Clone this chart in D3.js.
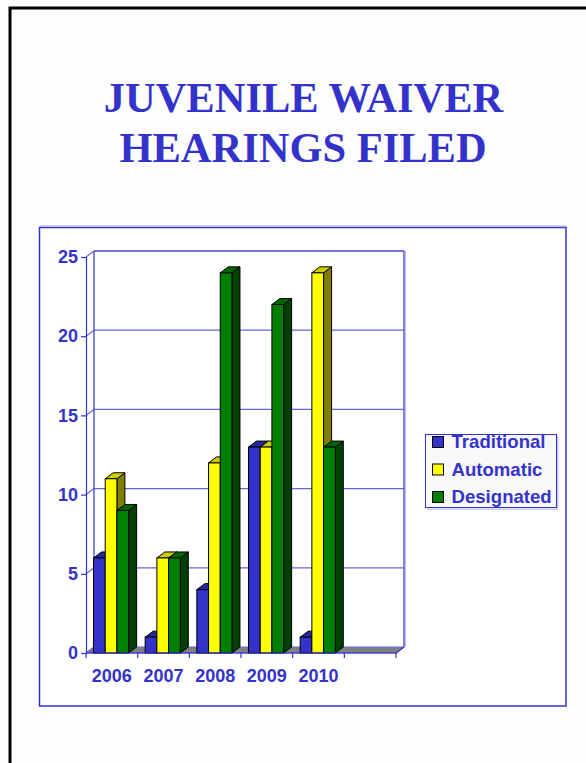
<!DOCTYPE html>
<html>
<head>
<meta charset="utf-8">
<script src="https://cdn.jsdelivr.net/npm/d3@7"></script>
<style>
  html, body { margin: 0; padding: 0; background: #fdfdfd; }
  svg { display: block; }
</style>
</head>
<body>
<svg id="chart" width="586" height="763"></svg>
<script>
// Hearings filed per year, by waiver type
const years = ["2006", "2007", "2008", "2009", "2010", ""];
const seriesNames = ["Traditional", "Automatic", "Designated"];
const traditional = [6, 1, 4, 13, 1];
const automatic = [11, 6, 12, 13, 24];
const designated = [9, 6, 24, 22, 13];
const yTicks = [0, 5, 10, 15, 20, 25];

const seriesValues = [traditional, automatic, designated];
const faceColors = {
  front: ["#3333CC", "#FFFF00", "#008000"],
  top:   ["#2626A0", "#CCCC00", "#006600"],
  side:  ["#1A1A66", "#808000", "#004000"]
};
const ink = "#3333CC";
const gridColor = "#6666DD";

const svg = d3.select("#chart");

// page frame
svg.append("rect")
  .attr("x", 10).attr("y", 8).attr("width", 640).attr("height", 820)
  .attr("fill", "#fdfdfd").attr("stroke", "#000").attr("stroke-width", 3);

// title
const title = svg.append("text")
  .attr("text-anchor", "middle")
  .attr("font-family", "'Liberation Serif', 'Times New Roman', serif")
  .attr("font-weight", "bold")
  .attr("font-size", 42.5)
  .attr("fill", ink);
title.append("tspan").attr("x", 303.5).attr("y", 112).text("JUVENILE WAIVER");
title.append("tspan").attr("x", 303).attr("y", 162).text("HEARINGS FILED");

// chart box
svg.append("rect")
  .attr("x", 39.5).attr("y", 227.5).attr("width", 526.5).attr("height", 478.5)
  .attr("fill", "#ffffff").attr("stroke", ink).attr("stroke-width", 1.5);
svg.append("line")
  .attr("x1", 40).attr("x2", 566).attr("y1", 226).attr("y2", 226)
  .attr("stroke", "#aaaaee").attr("stroke-width", 1);

// scales
const depthX = 8, depthY = -6;
const x = d3.scaleBand().domain(years).range([86, 396]).paddingInner(0).paddingOuter(0);
const bw = x.bandwidth();
const xInner = d3.scaleBand().domain(seriesNames).range([bw * 0.145, bw * 0.825]).padding(0);
const y = d3.scaleLinear().domain([0, 25]).range([653, 257]);

const g = svg.append("g");
const frontLeft = x.range()[0], frontRight = x.range()[1];
const y0 = y(0);

// floor
g.append("path")
  .attr("d", `M${frontLeft},${y0} L${frontLeft + depthX},${y0 + depthY} L${frontRight + depthX},${y0 + depthY} L${frontRight},${y0} Z`)
  .attr("fill", "#808080").attr("stroke", gridColor).attr("stroke-width", 1);

// back wall and left wall gridlines
yTicks.forEach(t => {
  const yf = y(t), yb = y(t) + depthY;
  if (t > 0) {
    g.append("line")
      .attr("x1", frontLeft + depthX).attr("x2", frontRight + depthX)
      .attr("y1", yb).attr("y2", yb)
      .attr("stroke", gridColor).attr("stroke-width", 1.2);
  }
  g.append("line")
    .attr("x1", frontLeft).attr("x2", frontLeft + depthX)
    .attr("y1", yf).attr("y2", yb)
    .attr("stroke", gridColor).attr("stroke-width", 1.2);
});
// wall edges
g.append("line")
  .attr("x1", frontLeft + depthX).attr("x2", frontLeft + depthX)
  .attr("y1", y(25) + depthY).attr("y2", y0 + depthY)
  .attr("stroke", ink).attr("stroke-width", 1.2);
g.append("line")
  .attr("x1", frontRight + depthX).attr("x2", frontRight + depthX)
  .attr("y1", y(25) + depthY).attr("y2", y0 + depthY)
  .attr("stroke", ink).attr("stroke-width", 1.2);
g.append("line")
  .attr("x1", frontRight + depthX + 1.5).attr("x2", frontRight + depthX + 1.5)
  .attr("y1", y(25) + depthY).attr("y2", y0 + depthY)
  .attr("stroke", "#bbbbee").attr("stroke-width", 1);
g.append("line")
  .attr("x1", frontLeft + depthX).attr("x2", frontRight + depthX)
  .attr("y1", y(25) + depthY).attr("y2", y(25) + depthY)
  .attr("stroke", ink).attr("stroke-width", 1.2);

// bars (drawn left to right so each bar hides its neighbour's side face)
years.forEach((yr, i) => {
  seriesNames.forEach((s, k) => {
    const v = seriesValues[k][i];
    if (v === undefined) return;
    const bx = x(yr) + xInner(s);
    const w = xInner.bandwidth();
    const yt = y(v);
    const bar = g.append("g");
    bar.append("path")
      .attr("d", `M${bx + w},${yt} L${bx + w + depthX},${yt + depthY} L${bx + w + depthX},${y0 + depthY} L${bx + w},${y0} Z`)
      .attr("fill", faceColors.side[k]).attr("stroke", "#000").attr("stroke-width", 1).attr("stroke-linejoin", "round");
    bar.append("path")
      .attr("d", `M${bx},${yt} L${bx + depthX},${yt + depthY} L${bx + w + depthX},${yt + depthY} L${bx + w},${yt} Z`)
      .attr("fill", faceColors.top[k]).attr("stroke", "#000").attr("stroke-width", 1).attr("stroke-linejoin", "round");
    bar.append("rect")
      .attr("x", bx).attr("y", yt).attr("width", w).attr("height", y0 - yt)
      .attr("fill", faceColors.front[k]).attr("stroke", "#000").attr("stroke-width", 1);
  });
});

// y axis (front edge)
const yAxis = svg.append("g")
  .attr("transform", `translate(${frontLeft},0)`)
  .call(d3.axisLeft(y).tickValues(yTicks).tickSize(5).tickPadding(3));
yAxis.select(".domain").attr("stroke", ink).attr("stroke-width", 1.2);
yAxis.selectAll(".tick line").attr("stroke", ink).attr("stroke-width", 1.2);
yAxis.selectAll(".tick text")
  .attr("fill", ink)
  .attr("font-family", "'Liberation Sans', Arial, sans-serif")
  .attr("font-weight", "bold").attr("font-size", 18);

// x axis (front edge), ticks at category boundaries
const xAxis = svg.append("g")
  .attr("transform", `translate(0,${y0})`)
  .call(d3.axisBottom(x).tickSize(0).tickPadding(16));
xAxis.select(".domain").remove();
xAxis.selectAll(".tick text")
  .attr("fill", ink)
  .attr("font-family", "'Liberation Sans', Arial, sans-serif")
  .attr("font-weight", "bold").attr("font-size", 18);
svg.append("line")
  .attr("x1", frontLeft).attr("x2", frontRight).attr("y1", y0).attr("y2", y0)
  .attr("stroke", ink).attr("stroke-width", 1.2);
svg.append("line")
  .attr("x1", frontRight).attr("x2", frontRight + depthX).attr("y1", y0).attr("y2", y0 + depthY)
  .attr("stroke", ink).attr("stroke-width", 1.2);
const boundaries = years.map(d => x(d)).concat([frontRight]);
svg.selectAll(".xb").data(boundaries).enter().append("line")
  .attr("x1", d => d).attr("x2", d => d).attr("y1", y0).attr("y2", y0 + 5)
  .attr("stroke", ink).attr("stroke-width", 1.2);

// legend
const legend = svg.append("g");
legend.append("rect")
  .attr("x", 425.5).attr("y", 434.5).attr("width", 131).attr("height", 73)
  .attr("fill", "#f9f9f9").attr("stroke", ink).attr("stroke-width", 1);
legend.append("rect")
  .attr("x", 427).attr("y", 508.5).attr("width", 131).attr("height", 1.2)
  .attr("fill", "#bbbbee");
legend.append("rect")
  .attr("x", 557.2).attr("y", 436).attr("width", 1.2).attr("height", 73)
  .attr("fill", "#bbbbee");
seriesNames.forEach((s, k) => {
  const ly = 448 + k * 27.5;
  legend.append("rect")
    .attr("x", 432.5).attr("y", ly - 11.5).attr("width", 11).attr("height", 11)
    .attr("fill", faceColors.front[k]).attr("stroke", "#000").attr("stroke-width", 1);
  legend.append("text")
    .attr("x", 451.5).attr("y", ly)
    .attr("fill", ink)
    .attr("font-family", "'Liberation Sans', Arial, sans-serif")
    .attr("font-weight", "bold").attr("font-size", 18.6)
    .text(s);
});
</script>
</body>
</html>
